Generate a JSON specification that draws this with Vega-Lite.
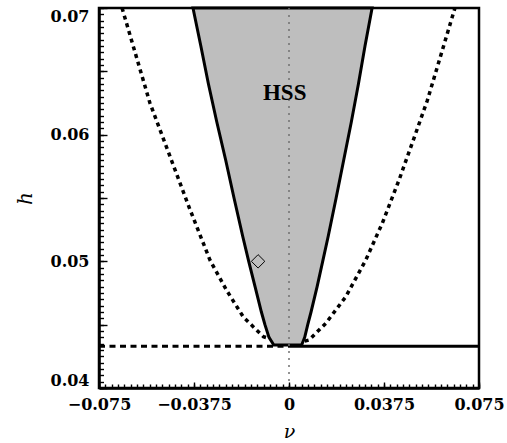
{
  "$schema": "https://vega.github.io/schema/vega-lite/v6.json",
  "width": 380,
  "height": 380,
  "autosize": "none",
  "padding": {"left": 99, "top": 8, "right": 28, "bottom": 55},
  "background": "white",
  "config": {"view": {"stroke": "black", "strokeWidth": 2.5}},
  "resolve": {"axis": {"x": "independent", "y": "independent"}},
  "datasets": {
    "region": [
      {"h": 0.0434, "nu": -0.0060, "nu2": 0.0050},
      {"h": 0.044, "nu": -0.0079, "nu2": 0.0062},
      {"h": 0.045, "nu": -0.0095, "nu2": 0.0074},
      {"h": 0.046, "nu": -0.0109, "nu2": 0.0087},
      {"h": 0.048, "nu": -0.0134, "nu2": 0.0111},
      {"h": 0.050, "nu": -0.0159, "nu2": 0.0133},
      {"h": 0.052, "nu": -0.0183, "nu2": 0.0155},
      {"h": 0.055, "nu": -0.0217, "nu2": 0.0186},
      {"h": 0.058, "nu": -0.0250, "nu2": 0.0216},
      {"h": 0.061, "nu": -0.0285, "nu2": 0.0246},
      {"h": 0.064, "nu": -0.0318, "nu2": 0.0274},
      {"h": 0.067, "nu": -0.0348, "nu2": 0.0300},
      {"h": 0.070, "nu": -0.0379, "nu2": 0.0328}
    ],
    "dash": [
      {"branch": "L", "nu": -0.0659, "h": 0.0700},
      {"branch": "L", "nu": -0.0549, "h": 0.0625},
      {"branch": "L", "nu": -0.0470, "h": 0.0583},
      {"branch": "L", "nu": -0.0391, "h": 0.0541},
      {"branch": "L", "nu": -0.0312, "h": 0.0501},
      {"branch": "L", "nu": -0.0246, "h": 0.0477},
      {"branch": "L", "nu": -0.0180, "h": 0.0456},
      {"branch": "L", "nu": -0.0101, "h": 0.04405},
      {"branch": "L", "nu": -0.0078, "h": 0.0439},
      {"branch": "R", "nu": 0.0062, "h": 0.0437},
      {"branch": "R", "nu": 0.0079, "h": 0.04379},
      {"branch": "R", "nu": 0.0145, "h": 0.0451},
      {"branch": "R", "nu": 0.0224, "h": 0.0472},
      {"branch": "R", "nu": 0.0303, "h": 0.0501},
      {"branch": "R", "nu": 0.0368, "h": 0.0530},
      {"branch": "R", "nu": 0.0434, "h": 0.0564},
      {"branch": "R", "nu": 0.0500, "h": 0.0601},
      {"branch": "R", "nu": 0.0546, "h": 0.0627},
      {"branch": "R", "nu": 0.0655, "h": 0.0700}
    ],
    "hdash": [{"nu": -0.075, "h": 0.0433}, {"nu": 0, "h": 0.0433}],
    "hsolid": [{"nu": 0, "h": 0.0433}, {"nu": 0.075, "h": 0.0433}],
    "vline": [{"nu": 0}],
    "pt": [{"nu": -0.0122, "h": 0.0500}],
    "lbl": [{"nu": -0.0017, "h": 0.0633, "text": "HSS"}]
  },
  "encoding": {
    "x": {"field": "nu", "type": "quantitative", "scale": {"domain": [-0.075, 0.075], "nice": false, "zero": false}, "axis": null},
    "y": {"field": "h", "type": "quantitative", "scale": {"domain": [0.04, 0.07], "nice": false, "zero": false}, "axis": null}
  },
  "layer": [
    {
      "data": {"name": "dash"},
      "mark": {"type": "point", "opacity": 0},
      "encoding": {
        "x": {
          "field": "nu", "type": "quantitative",
          "scale": {"domain": [-0.075, 0.075], "nice": false, "zero": false},
          "axis": {
            "orient": "bottom", "zindex": 2, "offset": -4,
            "title": null, "labels": false, "domain": false, "grid": false,
            "values": [-0.075,-0.0725,-0.07,-0.0675,-0.065,-0.0625,-0.06,-0.0575,-0.055,-0.0525,-0.05,-0.0475,-0.045,-0.0425,-0.04,-0.0375,-0.035,-0.0325,-0.03,-0.0275,-0.025,-0.0225,-0.02,-0.0175,-0.015,-0.0125,-0.01,-0.0075,-0.005,-0.0025,0,0.0025,0.005,0.0075,0.01,0.0125,0.015,0.0175,0.02,0.0225,0.025,0.0275,0.03,0.0325,0.035,0.0375,0.04,0.0425,0.045,0.0475,0.05,0.0525,0.055,0.0575,0.06,0.0625,0.065,0.0675,0.07,0.0725,0.075],
            "tickSize": 4, "tickColor": "black", "tickWidth": 1.4
          }
        },
        "y": {
          "field": "h", "type": "quantitative",
          "scale": {"domain": [0.04, 0.07], "nice": false, "zero": false},
          "axis": {
            "orient": "left", "zindex": 2, "offset": -4.5,
            "title": null, "labels": false, "domain": false, "grid": false,
            "values": [0.04,0.0405,0.041,0.0415,0.042,0.0425,0.043,0.0435,0.044,0.0445,0.045,0.0455,0.046,0.0465,0.047,0.0475,0.048,0.0485,0.049,0.0495,0.05,0.0505,0.051,0.0515,0.052,0.0525,0.053,0.0535,0.054,0.0545,0.055,0.0555,0.056,0.0565,0.057,0.0575,0.058,0.0585,0.059,0.0595,0.06,0.0605,0.061,0.0615,0.062,0.0625,0.063,0.0635,0.064,0.0645,0.065,0.0655,0.066,0.0665,0.067,0.0675,0.068,0.0685,0.069,0.0695,0.07],
            "tickSize": 4.5, "tickColor": "black", "tickWidth": 1.4
          }
        }
      }
    },
    {
      "data": {"name": "dash"},
      "mark": {"type": "line", "color": "black", "strokeWidth": 3.5, "strokeDash": [4, 4]},
      "encoding": {
        "detail": {"field": "branch"},
        "x": {
          "field": "nu", "type": "quantitative",
          "scale": {"domain": [-0.075, 0.075], "nice": false, "zero": false},
          "axis": {
            "orient": "bottom", "zindex": 2,
            "title": "ν",
            "values": [-0.075, -0.0375, 0, 0.0375, 0.075],
            "labelExpr": "abs(datum.value+0.075)<1e-6 ? '−0.075' : abs(datum.value+0.0375)<1e-6 ? '−0.0375' : abs(datum.value)<1e-6 ? '0' : abs(datum.value-0.0375)<1e-6 ? '0.0375' : '0.075'",
            "tickSize": -6, "tickColor": "black", "tickWidth": 1.4,
            "domainColor": "black", "domainWidth": 2.5,
            "grid": false,
            "labelOverlap": false, "labelBound": false, "labelFlush": false,
            "labelFont": "DejaVu Serif", "labelFontWeight": "bold", "labelFontSize": 16, "labelColor": "black",
            "labelPadding": 14,
            "titleFont": "DejaVu Serif", "titleFontStyle": "italic", "titleFontWeight": "normal", "titleFontSize": 19, "titleColor": "black",
            "titlePadding": 10
          }
        },
        "y": {
          "field": "h", "type": "quantitative",
          "scale": {"domain": [0.04, 0.07], "nice": false, "zero": false},
          "axis": {
            "orient": "left", "zindex": 2,
            "title": "h",
            "values": [0.04, 0.045, 0.05, 0.055, 0.06, 0.065, 0.07],
            "labelExpr": "abs(datum.value*100-round(datum.value*100))<1e-6 ? format(datum.value, '.2f') : ''",
            "tickSize": -8, "tickColor": "black", "tickWidth": 1.4,
            "domainColor": "black", "domainWidth": 2.5,
            "grid": false,
            "labelOverlap": false, "labelBound": false, "labelFlush": true,
            "labelFont": "DejaVu Serif", "labelFontWeight": "bold", "labelFontSize": 16, "labelColor": "black",
            "labelPadding": 18,
            "titleFont": "DejaVu Serif", "titleFontStyle": "italic", "titleFontWeight": "normal", "titleFontSize": 20, "titleColor": "black",
            "titlePadding": 15
          }
        }
      }
    },
    {
      "data": {"name": "hdash"},
      "mark": {"type": "line", "color": "black", "strokeWidth": 3, "strokeDash": [6, 4.5]},
      "encoding": {}
    },
    {
      "data": {"name": "hsolid"},
      "mark": {"type": "line", "color": "black", "strokeWidth": 3},
      "encoding": {}
    },
    {
      "data": {"name": "region"},
      "mark": {"type": "area", "orient": "horizontal", "fill": "#bebebe", "fillOpacity": 1, "stroke": "black", "strokeWidth": 3},
      "encoding": {"x2": {"field": "nu2"}}
    },
    {
      "data": {"name": "vline"},
      "mark": {"type": "rule", "color": "#707070", "strokeWidth": 1.5, "strokeDash": [2, 5]},
      "encoding": {"x": {"field": "nu", "type": "quantitative", "scale": {"domain": [-0.075, 0.075], "nice": false, "zero": false}, "axis": null}, "y": null}
    },
    {
      "data": {"name": "pt"},
      "mark": {"type": "point", "shape": "diamond", "size": 180, "filled": false, "color": "black", "strokeWidth": 1, "opacity": 1}
    },
    {
      "data": {"name": "lbl"},
      "mark": {"type": "text", "font": "Liberation Serif", "fontWeight": "bold", "fontSize": 23, "color": "black", "align": "center", "baseline": "middle"},
      "encoding": {"text": {"field": "text"}}
    }
  ]
}
